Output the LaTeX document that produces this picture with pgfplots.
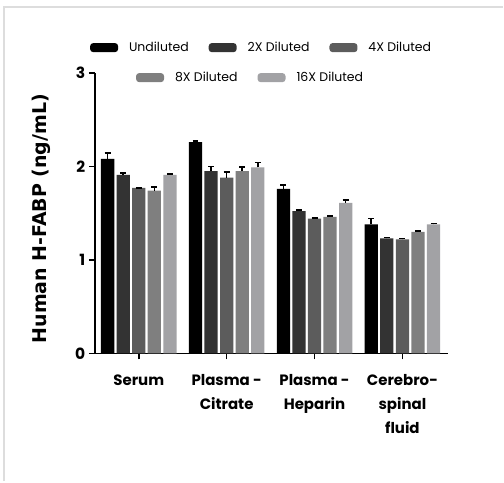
\documentclass[border=0pt]{standalone}
\usepackage{fontspec}
\setmainfont{Poppins}
\newfontfamily\dvs{DejaVu Sans}
\usepackage{pgfplots}
\pgfplotsset{compat=1.18}

\definecolor{c1}{HTML}{000000}
\definecolor{c2}{HTML}{333333}
\definecolor{c4}{HTML}{5C5C5C}
\definecolor{c8}{HTML}{7F7F7F}
\definecolor{c16}{HTML}{A2A2A5}
\definecolor{frame}{HTML}{DDDDDD}

\pgfplotsset{
  patch/.style={fill=#1, draw=none,
    legend image code/.code={\fill[##1, rounded corners=3pt] (0pt,-4.5pt) rectangle (28pt,4.5pt);}},
  legstyle/.style={draw=none, fill=none, font=\fontsize{12.5}{14}\selectfont,
    legend cell align=left,
    /tikz/every odd column/.append style={column sep=9pt},
    /tikz/every even column/.append style={column sep=18pt}},
}

\begin{document}
\begin{tikzpicture}
\begin{axis}[
    at={(0,0)}, anchor=south west,
    scale only axis,
    width=354pt, height=281pt,
    ybar=2.3pt, bar width=13.3pt,
    xmin=-0.5, xmax=3.52,
    ymin=0, ymax=3,
    axis lines*=left,
    axis line style={line width=1.6pt, black},
    ytick={0,1,2,3},
    xtick={0,1,2,3},
    xticklabels={Serum, {Plasma -\\Citrate}, {Plasma -\\Heparin}, {Cerebro-\\spinal\\fluid}},
    x tick label style={align=center, font=\bfseries\fontsize{15}{24}\selectfont, yshift=-12pt},
    y tick label style={font=\bfseries\fontsize{15.5}{16}\selectfont},
    /pgf/number format/assume math mode=true,
    tick style={line width=1.6pt, black},
    tick align=outside,
    major tick length=6pt,
    ylabel={\dvs\bfseries Human H-FABP (ng/mL)},
    ylabel style={font=\fontsize{19}{20}\selectfont, at={(axis description cs:-0.15,0.48)}, anchor=center},
    error bars/y dir=plus,
    error bars/y explicit,
    error bars/error bar style={black, line width=1.6pt},
    error bars/error mark options={black, line width=1.6pt, mark size=3pt, rotate=90},
    legend style={legstyle, at={(rel axis cs:0.472,1.09)}, anchor=center},
    legend columns=3,
    clip=false,
]
\addplot[patch=c1] coordinates {(0,2.08) +- (0,0.06) (1,2.26) +- (0,0.01) (2,1.76) +- (0,0.04) (3,1.38) +- (0,0.06)};
\addlegendentry{Undiluted}
\addplot[patch=c2] coordinates {(0,1.91) +- (0,0.02) (1,1.95) +- (0,0.05) (2,1.52) +- (0,0.01) (3,1.23) +- (0,0.01)};
\addlegendentry{2X Diluted}
\addplot[patch=c4] coordinates {(0,1.77) +- (0,0.0) (1,1.88) +- (0,0.06) (2,1.44) +- (0,0.01) (3,1.22) +- (0,0.01)};
\addlegendentry{4X Diluted}
\addplot[patch=c8] coordinates {(0,1.74) +- (0,0.04) (1,1.95) +- (0,0.04) (2,1.46) +- (0,0.01) (3,1.30) +- (0,0.01)};
\addplot[patch=c16] coordinates {(0,1.91) +- (0,0.01) (1,1.99) +- (0,0.05) (2,1.61) +- (0,0.03) (3,1.38) +- (0,0.01)};
\end{axis}
% second legend row, centred like the reference
\begin{axis}[
    at={(0,0)}, anchor=south west,
    scale only axis, width=354pt, height=281pt,
    hide axis, xmin=0, xmax=1, ymin=0, ymax=1,
    legend style={legstyle, at={(rel axis cs:0.441,0.983)}, anchor=center},
    legend columns=2,
]
\addlegendimage{patch=c8}
\addlegendentry{8X Diluted}
\addlegendimage{patch=c16}
\addlegendentry{16X Diluted}
\end{axis}
% light frame of the original image
\draw[frame, line width=2pt] (-91pt,-128pt) -- (-91pt,347pt) -- (409pt,347pt);
\path[use as bounding box] (-95pt,-128pt) rectangle (409pt,354pt);
\end{tikzpicture}
\end{document}
